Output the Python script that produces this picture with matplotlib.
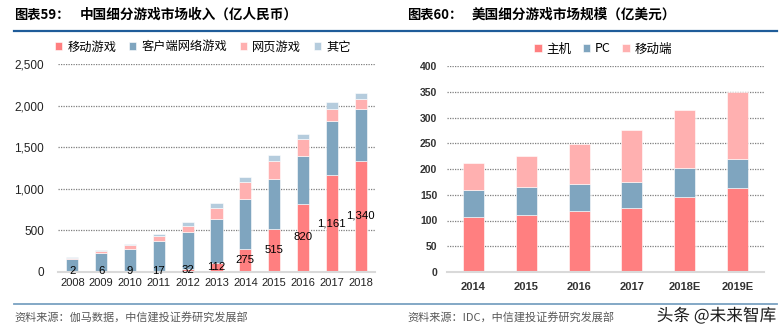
"""
China / US game market segments, two stacked bar charts side by side
"""

import numpy as np
import matplotlib.pyplot as plt
from matplotlib.lines import Line2D
import matplotlib.patheffects as pe

# left chart: China game market revenue (100m RMB)
cn_years = ["2008", "2009", "2010", "2011", "2012", "2013", "2014", "2015", "2016", "2017", "2018"]
cn_mobile = [2, 6, 9, 17, 32, 112, 275, 515, 820, 1161, 1340]
cn_client = [154, 227, 272, 356, 446, 530, 604, 604, 576, 649, 614]
cn_web = [16, 16, 48, 64, 76, 132, 204, 221, 197, 152, 129]
cn_other = [13, 12, 12, 16, 48, 61, 61, 64, 64, 77, 64]
cn_names = ["移动游戏", "客户端网络游戏", "网页游戏", "其它"]

# right chart: US game market size (100m USD)
us_years = ["2014", "2015", "2016", "2017", "2018E", "2019E"]
us_console = [107, 111, 119, 124, 145, 164]
us_pc = [53, 54, 52, 51, 57, 56]
us_mobile = [52, 61, 78, 100, 113, 130]
us_names = ["主机", "PC", "移动端"]

RED = "#FF7F80"
BLUE = "#7FA5BF"
PINK = "#FFB0B0"
LIGHT = "#B5CCDD"

W, H = 784, 330
CJK = ["Noto Sans CJK SC", "DejaVu Sans"]
plt.rcParams["font.family"] = ["Liberation Sans", "Noto Sans CJK SC", "DejaVu Sans"]


def px(x, y):
    return x / W, 1 - y / H


def style_axis(ax):
    for s in ["top", "right", "left"]:
        ax.spines[s].set_visible(False)
    ax.spines["bottom"].set_color("#D9D9D9")
    ax.spines["bottom"].set_linewidth(1.5)
    ax.tick_params(length=0)
    ax.yaxis.grid(True, linestyle=(0, (1, 1)), color="#7F7F7F", linewidth=0.9)
    ax.set_axisbelow(True)


fig = plt.figure(figsize=(W / 100, H / 100), dpi=100)

# ---- left chart ----
ax1 = fig.add_axes([58 / W, 1 - 272 / H, 317 / W, 208 / H])
x1 = np.arange(len(cn_years))
b1 = np.array(cn_mobile)
b2 = b1 + np.array(cn_client)
b3 = b2 + np.array(cn_web)
h1 = ax1.bar(x1, cn_mobile, width=0.42, color=RED, edgecolor="white", linewidth=0.4)
h2 = ax1.bar(x1, cn_client, width=0.42, bottom=b1, color=BLUE, edgecolor="white", linewidth=0.4)
h3 = ax1.bar(x1, cn_web, width=0.42, bottom=b2, color=PINK, edgecolor="white", linewidth=0.4)
h4 = ax1.bar(x1, cn_other, width=0.42, bottom=b3, color=LIGHT, edgecolor="white", linewidth=0.4)
for i, v in enumerate(cn_mobile):
    ax1.text(x1[i], v / 2 + 8, f"{v:,}", ha="center", va="center", fontsize=8.2,
             color="black")
ax1.set_xlim(-0.5, len(cn_years) - 0.5)
ax1.set_ylim(0, 2500)
ax1.set_yticks(np.arange(0, 2501, 500))
ax1.set_yticklabels([f"{v:,}" for v in range(0, 2501, 500)])
ax1.set_xticks(x1)
ax1.set_xticklabels(cn_years)
style_axis(ax1)
ax1.tick_params(axis="y", pad=10, labelsize=8.5)
ax1.tick_params(axis="x", pad=4, labelsize=8)
for t in ax1.get_xticklabels() + ax1.get_yticklabels():
    t.set_color("#222222")
fig.legend([h1, h2, h3, h4], cn_names, ncol=4, loc="center left",
           bbox_to_anchor=px(55, 47), frameon=False, handlelength=0.6,
           handleheight=0.6, handletextpad=0.4, columnspacing=1.05,
           borderpad=0, borderaxespad=0, prop={"family": CJK, "size": 8.8})

# ---- right chart ----
ax2 = fig.add_axes([447 / W, 1 - 272 / H, 317 / W, 206 / H])
x2 = np.arange(len(us_years))
c1 = np.array(us_console)
c2 = c1 + np.array(us_pc)
g1 = ax2.bar(x2, us_console, width=0.4, color=RED, edgecolor="white", linewidth=0.4)
g2 = ax2.bar(x2, us_pc, width=0.4, bottom=c1, color=BLUE, edgecolor="white", linewidth=0.4)
g3 = ax2.bar(x2, us_mobile, width=0.4, bottom=c2, color=PINK, edgecolor="white", linewidth=0.4)
ax2.set_xlim(-0.5, len(us_years) - 0.5)
ax2.set_ylim(0, 400)
ax2.set_yticks(np.arange(0, 401, 50))
ax2.set_xticks(x2)
ax2.set_xticklabels(us_years)
style_axis(ax2)
ax2.tick_params(axis="y", pad=7, labelsize=7.5)
ax2.tick_params(axis="x", pad=7, labelsize=8)
for t in ax2.get_xticklabels() + ax2.get_yticklabels():
    t.set_fontweight("bold")
    t.set_color("#333333")
fig.legend([g1, g2, g3], us_names, ncol=3, loc="center left",
           bbox_to_anchor=px(534, 49), frameon=False, handlelength=0.6,
           handleheight=0.6, handletextpad=0.4, columnspacing=0.9,
           borderpad=0, borderaxespad=0, prop={"family": CJK, "size": 9})

# ---- titles, rules and source notes ----
fig.add_artist(Line2D([14 / W, 777 / W], [1 - 30.5 / H] * 2, color="#1F5C99", linewidth=1.6))
fig.add_artist(Line2D([14 / W, 777 / W], [1 - 303.5 / H] * 2, color="#7AA1C1", linewidth=1.3))

fig.text(*px(14, 15), "图表59：", family=CJK, fontsize=9.5, fontweight="bold", va="center")
fig.text(*px(80, 15), "中国细分游戏市场收入（亿人民币）", family=CJK, fontsize=9.8,
         fontweight="bold", va="center")
fig.text(*px(407, 15), "图表60：", family=CJK, fontsize=9.5, fontweight="bold", va="center")
fig.text(*px(472, 15), "美国细分游戏市场规模（亿美元）", family=CJK, fontsize=9.8,
         fontweight="bold", va="center")

fig.text(*px(14, 318), "资料来源：伽马数据，中信建投证券研究发展部", family=CJK, fontsize=8,
         color="#595959", va="center")
fig.text(*px(407, 318), "资料来源：IDC，中信建投证券研究发展部", family=CJK, fontsize=8,
         color="#595959", va="center")
fig.text(*px(776, 316), "头条 @未来智库", family=CJK, fontsize=12, color="#1A1A1A",
         ha="right", va="center",
         path_effects=[pe.withStroke(linewidth=2, foreground="white")])

fig.savefig("out.png", dpi=100)
